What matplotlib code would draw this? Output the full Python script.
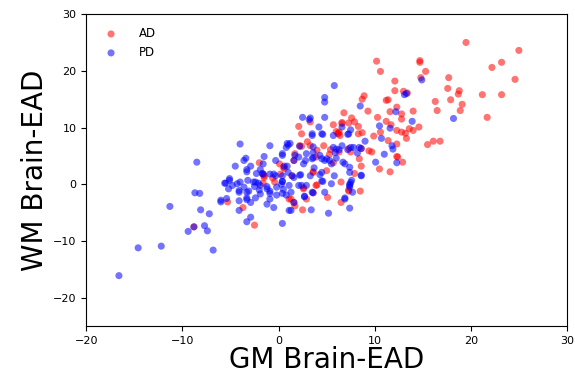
import matplotlib
matplotlib.use("Agg")
import matplotlib.pyplot as plt
import numpy as np

# ---------------------------------------------------------------------
# Data (GM Brain-EAD, WM Brain-EAD)
# ---------------------------------------------------------------------
ad_gm = [19.5, 25.0, 22.2, 23.2, 24.6, 21.2, 23.2, 21.7,
         10.2, 10.6, 14.7, 14.7, 15.3, 14.8, 12.1, 12.1, 13.0, 13.4,
         17.7, 17.6, 18.8, 18.7, 17.9, 16.3, 16.5, 19.1, 18.9,
         8.9, 8.7, 11.2, 11.4, 9.3, 6.8, 7.6, 10.3, 12.3, 11.6, 12.8, 12.8, 14.0,
         11.2, 11.7, 13.6, 14.0, 14.6, 12.3, 12.8, 13.2, 13.3, 15.5, 16.1, 16.8,
         2.1, 2.4, 3.3, 5.7, 6.6, 7.3, 8.3, 8.7, 6.2, 6.4, 7.9, 6.6, 6.3,
         9.9, 10.6, 11.4, 12.3, 12.3, 12.9, 11.6, 10.5, 9.4, 9.7, 8.4, 8.6, 7.9,
         7.3, 8.5, 5.7, 5.3, 7.3, 12.4,
         6.2, 6.0, 8.3, 2.2, 3.3, 4.7, 4.0, 5.4, 6.3, 7.5, 1.7, 1.6, 3.0, 3.9,
         3.6, 0.6, 1.4,
         -2.0, -1.5, 0.1, 0.5, -0.4, -1.6, -1.5, 3.6, 5.0, -1.6, -0.6, 0.2, 4.0,
         2.9, 6.5,
         -8.8, -5.3, -3.7, -2.5, 1.1, 1.7, 2.5, 1.3, 1.6, 2.6, 3.9, 3.6, 5.1,
         6.5, 7.3, 2.6, 8.6, 2.4]
ad_wm = [25.0, 23.6, 20.6, 21.5, 18.5, 15.8, 15.8, 11.8,
         21.7, 19.9, 21.5, 21.8, 19.9, 18.8, 18.2, 16.5, 16.4, 16.1,
         18.8, 16.9, 16.5, 15.9, 14.9, 14.6, 13.0, 14.1, 13.0,
         15.6, 15.0, 14.8, 14.9, 12.9, 12.6, 11.7, 11.8, 13.6, 12.8, 12.4, 11.5, 12.9,
         11.1, 10.5, 9.8, 9.5, 10.1, 9.5, 9.2, 9.0, 8.1, 7.0, 7.6, 7.6,
         10.2, 8.9, 11.0, 10.5, 10.7, 10.8, 10.2, 9.1, 9.0, 8.6, 11.0, 10.9, 9.2,
         8.5, 9.2, 7.7, 7.1, 4.9, 3.9, 2.2, 2.7, 5.9, 5.7, 4.5, 3.2, 1.9,
         -1.0, -1.2, 3.8, 5.3, 6.3, 4.8,
         8.9, 9.3, 8.9, 6.8, 6.8, 6.8, 6.0, 6.1, 5.7, 5.7, 5.4, 4.2, 7.5, 4.8,
         2.1, 2.8, 1.5,
         3.8, 1.5, 3.6, 3.0, 0.4, 1.8, 1.2, 2.2, 2.4, 0.2, 1.1, 1.8, -0.1,
         -2.6, 0.4,
         -7.5, -3.1, -4.1, -7.2, -2.6, -3.8, -4.5, -2.6, -3.2, -0.6, -0.2, -1.5, -2.3,
         -3.2, -1.2, -0.8, 6.3, 6.7]

pd_gm = [-16.6, -14.6, -12.2, -11.3, -8.7, -8.2, -8.1, -7.2, -7.7, -7.4, -8.8, -9.4,
         -6.8, -6.0, -5.4, -4.1, -4.1, -3.3, -2.9, -3.3, -3.1, -4.1, -1.2, -0.5,
         0.4, -0.9, -0.2, 1.1,
         1.3, 3.4, 5.2, 1.6, 2.7, 2.1, 3.6, 6.9, 7.4, 7.4, 7.5, 4.5, 0.4,
         -8.5, -4.0, -0.9, -3.6, -3.4, -4.5, -2.9, -3.3, -1.6, -0.3, 0.4, 0.8, 0.9,
         -1.9, -2.6, -5.6, -5.1, -4.8, -4.3, -3.3, -2.5, -2.0, -1.2, -0.9, -0.2,
         0.4, 0.8, -6.0,
         -3.3, -2.3, -1.6, -0.9, -5.5, -5.1, -4.0, -3.2, -2.4, -2.1, -5.2, -4.1,
         -3.6, -1.9, -0.9, -2.9, -3.3, -2.4, -1.9,
         5.8, 4.8, 4.8, 2.5, 3.3, 3.2, 4.8, 4.2, 4.6, 3.5, 3.5, 4.5, 6.6, 7.5,
         7.3, 7.2, 5.7,
         13.1, 13.3, 14.9, 8.5, 12.2, 13.9, 18.2, 10.7, 11.8, 11.9, 11.0, 12.3,
         10.1, 9.0, 8.4, 8.2, 8.6, 7.6, 7.4, 7.4, 6.9, 6.0, 6.3, 6.6, 7.5, 5.9,
         10.5, 11.6, 8.6, 8.6,
         1.0, 3.6, 6.0, 7.2, 7.8, -1.5, 2.1, 2.9, 1.6, 3.5, 4.5, 5.0, 5.5, 6.7,
         -1.7, -0.5, -0.3, 1.0, 1.6, 2.2, 3.3, 4.3, 5.8, 7.4, -1.2, 0.3, 0.5,
         1.1, 1.3, 2.4, 3.5, 4.8, 5.5, 7.4, 7.7,
         1.2, 1.7, 2.2, 2.6, 2.8, 3.6, 3.6, 4.3, 4.5, 4.8, 5.3, 5.7, 0.4, 0.6,
         0.9, 0.4, 0.4, 2.3, 2.9, 2.7, 6.9, 4.6, 3.7, 1.4]
pd_wm = [-16.1, -11.2, -10.9, -3.9, -1.5, -1.6, -4.5, -5.2, -7.3, -8.2, -7.5, -8.3,
         -11.6, -3.1, -2.5, -4.6, -2.9, -6.6, -5.8, -2.7, -1.2, -1.4, -3.5, -4.1,
         -6.9, -2.6, -1.9, -4.6,
         -4.6, -4.5, -5.1, -3.2, -2.2, -0.2, -1.5, -2.6, -4.2, -0.5, 0.3, 0.6, -1.6,
         3.9, 7.1, 6.8, 4.2, 4.6, 3.2, 3.2, 2.6, 3.6, 4.2, 5.1, 6.5, 7.2,
         2.6, 0.4, 0.2, 1.0, -0.2, 0.1, -1.4, -0.4, -1.0, -0.4, -1.6, -0.5,
         0.5, -1.9, -2.8,
         2.2, 1.9, 1.8, 1.8, 0.2, 0.7, 0.4, 0.7, 0.4, 0.2, -0.8, -1.1,
         -0.5, -0.2, -1.2, -3.2, -2.4, -2.4, -1.7,
         17.4, 15.3, 14.5, 11.8, 11.7, 11.4, 11.8, 10.1, 8.8, 8.9, 8.6, 8.9, 10.1, 9.6,
         8.9, 8.8, 8.6,
         15.8, 16.0, 18.4, 13.8, 12.8, 11.1, 11.6, 8.1, 6.8, 6.2, 5.3, 3.8,
         3.9, 7.6, 6.5, 5.5, 1.6, 0.7, -0.2, 3.0, 3.6, 4.6, 6.1, 6.8, 6.5, 5.6,
         10.3, 9.9, 6.3, 1.5,
         6.9, 5.6, 6.2, 6.1, 6.5, 4.9, 4.8, 5.4, 4.2, 4.5, 4.5, 4.5, 3.6, 3.9,
         1.9, 1.8, 1.5, 2.1, 1.2, 1.6, 1.5, 1.7, 1.5, 2.1, -0.8, 0.0, -0.9,
         -0.2, -1.4, -0.2, -1.4, -1.4, 0.1, 0.0, -1.4,
         7.2, 5.1, 6.7, 3.6, 4.2, 6.6, 4.7, 5.1, 2.1, 4.2, 4.2, 6.5, 5.4, 3.2,
         3.2, 1.5, 0.5, 1.7, -0.2, -2.1, -2.4, 0.5, 2.9, 1.5]

x_ticks = [-20, -10, 0, 10, 20, 30]
y_ticks = [-20, -10, 0, 10, 20, 30]


def main():
    fig = plt.figure(figsize=(5.75, 3.81), dpi=100)
    ax = fig.add_axes([0.150, 0.144, 0.836, 0.819])

    ax.scatter(ad_gm, ad_wm, s=26, color="red", alpha=0.55, edgecolors="none", label="AD")
    ax.scatter(pd_gm, pd_wm, s=26, color="blue", alpha=0.55, edgecolors="none", label="PD")

    ax.set_xlim(-20, 30)
    ax.set_ylim(-25, 30)
    ax.set_xticks(x_ticks)
    ax.set_yticks(y_ticks)
    ax.tick_params(labelsize=8, length=3.5)

    ax.set_xlabel("GM Brain-EAD", fontsize=20, labelpad=0)
    ax.set_ylabel("WM Brain-EAD", fontsize=20, labelpad=3)

    ax.legend(loc="upper left", frameon=False, fontsize=8.5,
              handletextpad=1.4, borderaxespad=0.7)

    fig.savefig("out.png", dpi=100)


if __name__ == "__main__":
    main()
